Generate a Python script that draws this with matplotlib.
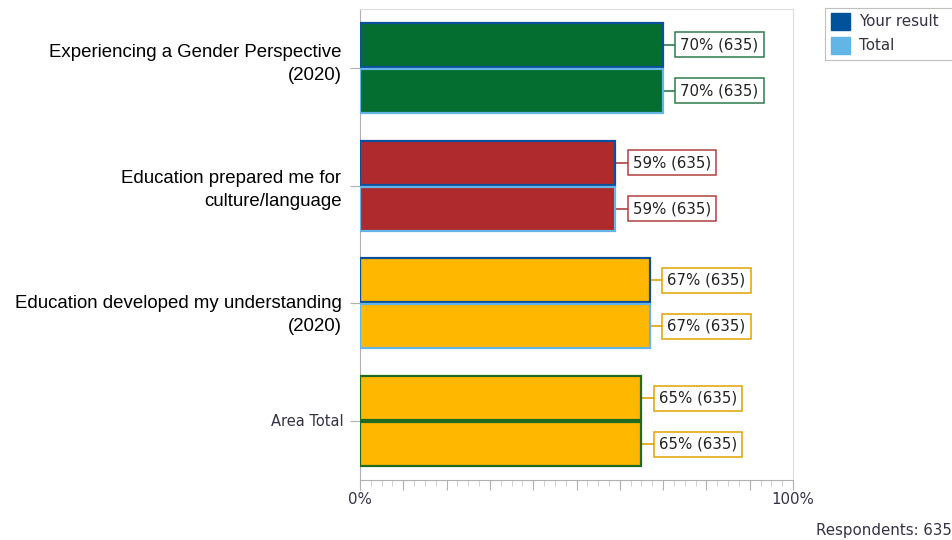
import matplotlib
matplotlib.use("Agg")
import matplotlib.pyplot as plt
from matplotlib.ticker import MultipleLocator

# chart data
categories = ["Experiencing a Gender Perspective\n(2020)",
              "Education prepared me for\nculture/language",
              "Education developed my understanding\n(2020)",
              "Area Total"]
your_result = [70, 59, 67, 65]
total = [70, 59, 67, 65]
respondents = [635, 635, 635, 635]
n_total = 635

fill_colors = ["#046D30", "#AF2A2D", "#FFB700", "#FFB700"]
box_colors = ["#2E7D4A", "#B04040", "#E0A300", "#E0A300"]
your_edge = ["#0B4F9C", "#0B4F9C", "#0B4F9C", "#1F6B1F"]
total_edge = ["#64B5E6", "#64B5E6", "#64B5E6", "#1F6B1F"]
# vertical nudge of category labels (in rows), as laid out in the original
label_nudge = [-0.03, 0.04, 0.10, 0.0]

fig = plt.figure(figsize=(9.53, 5.4), dpi=100)
ax = fig.add_axes([360 / 953, 60 / 540, 433 / 953, 471 / 540])

bar_h = 0.373
off = 0.195
gap = 2.8  # connector length in %

for i in range(len(categories)):
    for val, dy, ec in [(your_result[i], -off, your_edge[i]), (total[i], off, total_edge[i])]:
        ax.barh(i + dy, val, height=bar_h, color=fill_colors[i], edgecolor=ec,
                linewidth=1.6, zorder=3)
        ax.plot([val, val + gap], [i + dy, i + dy], color=box_colors[i], lw=1.2, zorder=2)
        ax.text(val + gap + 1.2, i + dy, f"{val}% ({respondents[i]})", ha="left", va="center",
                fontsize=10.8, family="DejaVu Sans", color="#222222",
                bbox=dict(boxstyle="square,pad=0.33", fc="white", ec=box_colors[i], lw=1.1),
                zorder=4)

ax.set_xlim(0, 100)
ax.set_ylim(3.5, -0.5)
ax.set_yticks(range(len(categories)))
ax.set_yticklabels([])
for i, lab in enumerate(categories):
    if lab == "Area Total":
        ax.text(-3.7, i, lab, ha="right", va="center", fontsize=10.5,
                family="DejaVu Sans", color="#333344")
    else:
        ax.text(-4.3, i + label_nudge[i], lab, ha="right", va="center", fontsize=13.4,
                family="Liberation Sans", color="black", linespacing=1.48)

ax.xaxis.set_major_locator(MultipleLocator(10))
ax.xaxis.set_minor_locator(MultipleLocator(2.5))
ax.set_xticklabels([])
ax.tick_params(axis="x", which="major", length=7, color="#b0b0b0", direction="out")
ax.tick_params(axis="x", which="minor", length=4, color="#c8c8c8", direction="out")
ax.tick_params(axis="y", length=7, color="#b0b0b0")
ax.text(0, -20 / 471, "0%", transform=ax.get_xaxis_transform(), ha="center", va="center",
        fontsize=10.8, family="DejaVu Sans", color="#333344")
ax.text(100, -20 / 471, "100%", transform=ax.get_xaxis_transform(), ha="center", va="center",
        fontsize=10.8, family="DejaVu Sans", color="#333344")

for side in ["top", "right"]:
    ax.spines[side].set_color("#dcdcdc")
for side in ["left", "bottom"]:
    ax.spines[side].set_color("#b0b0b0")

# legend
lx, ly = 825 / 953, 1 - 60 / 540
lax = fig.add_axes([lx, ly, 128 / 953, 52 / 540])
lax.set_xlim(0, 128)
lax.set_ylim(52, 0)
lax.set_xticks([])
lax.set_yticks([])
for s in lax.spines.values():
    s.set_color("#c0c0c0")
lax.add_patch(plt.Rectangle((6, 5), 19, 17, color="#00529B"))
lax.add_patch(plt.Rectangle((6, 29), 19, 17, color="#62B5E5"))
lax.text(34, 14, "Your result", va="center", fontsize=10.9, family="DejaVu Sans", color="#333344")
lax.text(34, 38, "Total", va="center", fontsize=10.9, family="DejaVu Sans", color="#333344")

fig.text(952 / 953, 1 - 530 / 540, f"Respondents: {n_total}", ha="right", va="center",
         fontsize=10.8, family="DejaVu Sans", color="#333344")

fig.savefig("out.png", dpi=100)
